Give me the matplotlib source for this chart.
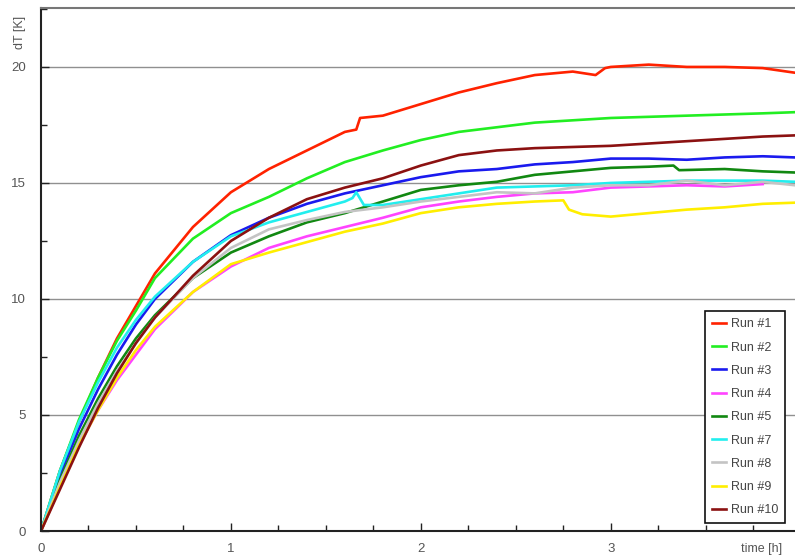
import matplotlib
matplotlib.use("Agg")
import matplotlib.pyplot as plt
from matplotlib.ticker import MultipleLocator

plt.rcParams['font.family'] = ['Liberation Sans', 'DejaVu Sans']

T = [0, 0.1, 0.2, 0.3, 0.4, 0.5, 0.6, 0.8, 1.0, 1.2, 1.4, 1.6, 1.8, 2.0,
     2.2, 2.4, 2.6, 2.8, 3.0, 3.2, 3.4, 3.6, 3.8, 3.97]

run1_t = [0, 0.1, 0.2, 0.3, 0.4, 0.5, 0.6, 0.8, 1.0, 1.2, 1.4, 1.6, 1.66, 1.68,
          1.8, 2.0, 2.2, 2.4, 2.6, 2.8, 2.92, 2.97, 3.0, 3.2, 3.4, 3.6, 3.8, 3.97]
run1_v = [0, 2.6, 4.7, 6.6, 8.3, 9.7, 11.1, 13.1, 14.6, 15.6, 16.4, 17.2, 17.3, 17.8,
          17.9, 18.4, 18.9, 19.3, 19.65, 19.8, 19.65, 19.95, 20.0, 20.1, 20.0, 20.0, 19.95, 19.75]

run2_t = T
run2_v = [0, 2.6, 4.8, 6.6, 8.2, 9.5, 10.9, 12.6, 13.7, 14.4, 15.2, 15.9, 16.4, 16.85,
          17.2, 17.4, 17.6, 17.7, 17.8, 17.85, 17.9, 17.95, 18.0, 18.05]

run3_t = T
run3_v = [0, 2.4, 4.4, 6.1, 7.6, 8.9, 10.0, 11.6, 12.75, 13.5, 14.1, 14.55, 14.9, 15.25,
          15.5, 15.6, 15.8, 15.9, 16.05, 16.05, 16.0, 16.1, 16.15, 16.1]

run4_t = T[:-1]
run4_v = [0, 1.9, 3.7, 5.2, 6.5, 7.6, 8.7, 10.3, 11.4, 12.2, 12.7, 13.1, 13.5, 13.95,
          14.2, 14.4, 14.55, 14.6, 14.8, 14.85, 14.9, 14.85, 14.95]

run5_t = [0, 0.1, 0.2, 0.3, 0.4, 0.5, 0.6, 0.8, 1.0, 1.2, 1.4, 1.6, 1.8, 2.0,
          2.2, 2.4, 2.6, 2.8, 3.0, 3.2, 3.33, 3.36, 3.6, 3.8, 3.97]
run5_v = [0, 2.2, 4.1, 5.7, 7.1, 8.3, 9.3, 10.9, 12.0, 12.7, 13.3, 13.7, 14.2, 14.7,
          14.9, 15.05, 15.35, 15.5, 15.65, 15.7, 15.75, 15.55, 15.6, 15.5, 15.45]

run7_t = [0, 0.1, 0.2, 0.3, 0.4, 0.5, 0.6, 0.8, 1.0, 1.2, 1.4, 1.6, 1.64, 1.66, 1.7,
          1.8, 2.0, 2.2, 2.4, 2.6, 2.8, 3.0, 3.2, 3.4, 3.6, 3.8, 3.97]
run7_v = [0, 2.6, 4.7, 6.4, 7.9, 9.1, 10.1, 11.6, 12.7, 13.3, 13.75, 14.2, 14.35, 14.6, 14.05,
          14.05, 14.3, 14.55, 14.8, 14.85, 14.9, 15.0, 15.05, 15.1, 15.1, 15.1, 15.05]

run8_t = T
run8_v = [0, 2.1, 3.9, 5.5, 6.9, 8.1, 9.2, 10.9, 12.2, 13.0, 13.4, 13.75, 13.95, 14.2,
          14.4, 14.6, 14.55, 14.8, 14.9, 14.9, 15.1, 14.9, 15.05, 14.9]

run9_t = [0, 0.1, 0.2, 0.3, 0.4, 0.5, 0.6, 0.8, 1.0, 1.2, 1.4, 1.6, 1.8, 2.0, 2.2, 2.4, 2.6,
          2.75, 2.78, 2.85, 3.0, 3.2, 3.4, 3.6, 3.8, 3.97]
run9_v = [0, 1.9, 3.7, 5.2, 6.6, 7.8, 8.8, 10.3, 11.5, 12.0, 12.45, 12.9, 13.25, 13.7, 13.95, 14.1, 14.2,
          14.25, 13.85, 13.65, 13.55, 13.7, 13.85, 13.95, 14.1, 14.15]

run10_t = T
run10_v = [0, 1.8, 3.6, 5.3, 6.8, 8.1, 9.2, 11.0, 12.5, 13.5, 14.3, 14.8, 15.2, 15.75,
           16.2, 16.4, 16.5, 16.55, 16.6, 16.7, 16.8, 16.9, 17.0, 17.05]

labels = ["Run #1", "Run #2", "Run #3", "Run #4", "Run #5", "Run #7", "Run #8", "Run #9", "Run #10"]
colors = ["#ff2200", "#22ee22", "#1a1aee", "#ff44ff", "#118811", "#22eeee", "#c4c4c4", "#ffee00", "#8b1111"]
series = [(run1_t, run1_v), (run2_t, run2_v), (run3_t, run3_v), (run4_t, run4_v),
          (run5_t, run5_v), (run7_t, run7_v), (run8_t, run8_v), (run9_t, run9_v),
          (run10_t, run10_v)]

fig = plt.figure(figsize=(7.95, 5.56), dpi=100)
ax = fig.add_axes([41/795, 1 - 531/556, 1 - 41/795, (531 - 8)/556])

for (t, v), c, lab in zip(series, colors, labels):
    ax.plot(t, v, color=c, lw=1.9, label=lab)

ax.set_xlim(0, 3.97)
ax.set_ylim(0, 22.54)
ax.xaxis.set_major_locator(MultipleLocator(1))
ax.xaxis.set_minor_locator(MultipleLocator(0.25))
ax.yaxis.set_major_locator(MultipleLocator(5))
ax.yaxis.set_minor_locator(MultipleLocator(2.5))
ax.grid(axis='y', which='major', color='#909090', lw=1.0)
ax.set_axisbelow(True)
ax.tick_params(which='both', direction='in', colors='#222222', labelcolor='#555555', labelsize=9.5)
ax.tick_params(which='major', length=6, width=1)
ax.tick_params(which='minor', length=4, width=1)
ax.tick_params(axis='x', pad=9)
ax.tick_params(axis='y', pad=11)

for s in ['left', 'bottom']:
    ax.spines[s].set_color('#222222')
    ax.spines[s].set_linewidth(1.5)
ax.spines['top'].set_color('#777777')
ax.spines['top'].set_linewidth(1.5)
ax.spines['right'].set_visible(False)

fig.text(20/795, 1 - 32/556, "dT [K]", rotation=90, ha='center', va='center',
         fontsize=9, color='#555555')
fig.text(762/795, 1 - 549/556, "time [h]", ha='center', va='center',
         fontsize=9, color='#555555')

leg = ax.legend(loc='lower right', bbox_to_anchor=(0.995, 0.003), fontsize=9.0,
                handlelength=1.1, handletextpad=0.4, labelspacing=0.9,
                borderpad=0.55, fancybox=False, framealpha=1, edgecolor='#111111')
leg.get_frame().set_linewidth(1.2)
for txt in leg.get_texts():
    txt.set_color('#444444')

fig.savefig("out.png", dpi=100)
